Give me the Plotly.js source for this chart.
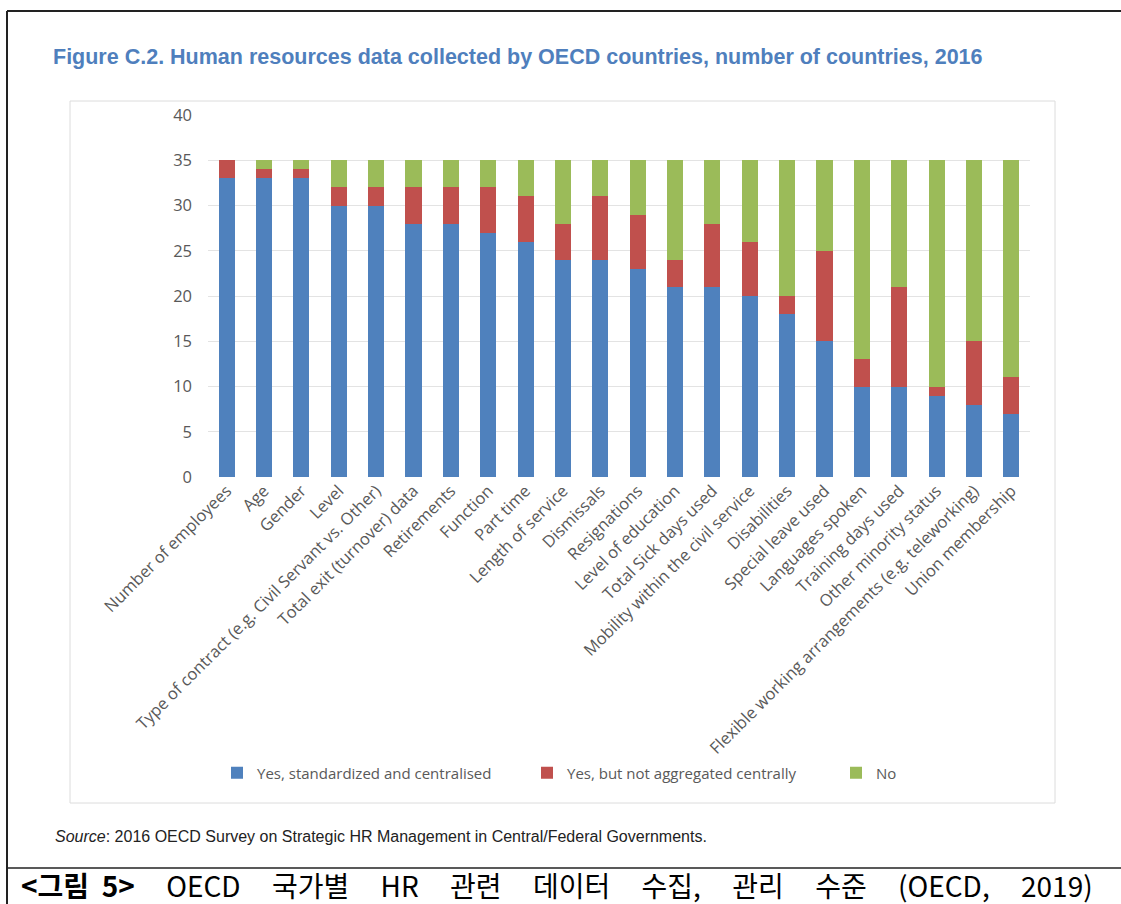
<!DOCTYPE html>
<html>
<head>
<meta charset="utf-8">
<script src="https://cdn.plot.ly/plotly-3.0.1.min.js"></script>
<style>html,body{margin:0;padding:0;background:#fff;}#chart{width:1121px;height:904px;}</style>
</head>
<body>
<div id="chart"></div>
<script>
const categories = [
  "Number of employees", "Age", "Gender", "Level",
  "Type of contract (e.g. Civil Servant vs. Other)", "Total exit (turnover) data",
  "Retirements", "Function", "Part time", "Length of service", "Dismissals",
  "Resignations", "Level of education", "Total Sick days used",
  "Mobility within the civil service", "Disabilities", "Special leave used",
  "Languages spoken", "Training days used", "Other minority status",
  "Flexible working arrangements (e.g. teleworking)", "Union membership"
];
const yesCentral    = [33, 33, 33, 30, 30, 28, 28, 27, 26, 24, 24, 23, 21, 21, 20, 18, 15, 10, 10, 9, 8, 7];
const yesNotCentral = [2, 1, 1, 2, 2, 4, 4, 5, 5, 4, 7, 6, 3, 7, 6, 2, 10, 3, 11, 1, 7, 4];
const noValues      = [0, 1, 1, 3, 3, 3, 3, 3, 4, 7, 4, 6, 11, 7, 9, 15, 10, 22, 14, 25, 20, 24];
const seriesNames = ["Yes, standardized and centralised", "Yes, but not aggregated centrally", "No"];
const yTicks = [0, 5, 10, 15, 20, 25, 30, 35, 40];
const captionWords = ["OECD", "국가별", "HR", "관련", "데이터", "수집,", "관리", "수준", "(OECD,", "2019)"];

const W = 1121, H = 904;
const L = 208, R = 1030, T = 115, B = 477;
const px = v => (v - L) / (R - L);
const py = v => (B - v) / (B - T);

const colors = ["#4f81bd", "#c0504d", "#9bbb59"];
const vals = [yesCentral, yesNotCentral, noValues];
const legendIds = ["legend", "legend2", "legend3"];
const legendTextX = [257, 567, 876];
const traces = vals.map((v, i) => ({
  type: "bar", x: categories, y: v, name: seriesNames[i], legend: legendIds[i],
  marker: {color: colors[i], line: {width: 0}}, hoverinfo: "skip"
}));

const legendBase = i => ({
  orientation: "h", xref: "container", x: (legendTextX[i] - 40) / W, xanchor: "left",
  yref: "container", y: 1 - 773 / H, yanchor: "middle",
  font: {family: "Open Sans, sans-serif", size: 15, color: "#595959"},
  bgcolor: "rgba(0,0,0,0)", borderwidth: 0
});

const gap = "&nbsp;".repeat(5);
const captionText = "<b>&lt;그림&nbsp;&nbsp;5&gt;</b>" + gap + captionWords.join(gap);

const layout = {
  width: W, height: H,
  margin: {l: L, r: W - R, t: T, b: H - B, pad: 0},
  paper_bgcolor: "#ffffff", plot_bgcolor: "#ffffff",
  barmode: "stack", bargap: 0.57,
  showlegend: true,
  title: {
    text: "<b>Figure C.2. Human resources data collected by OECD countries, number of countries, 2016</b>",
    xref: "container", yref: "container", x: 53 / W, xanchor: "left",
    y: 1 - 56 / H, yanchor: "middle",
    font: {family: "Liberation Sans, Arial, sans-serif", size: 21.5, color: "#4f7fbd"}
  },
  xaxis: {
    type: "category", tickangle: -45, showgrid: false, zeroline: false, showline: false,
    ticks: "", tickfont: {family: "Open Sans, sans-serif", size: 16.5, color: "#595959"},
    automargin: false
  },
  yaxis: {
    range: [0, 40], tickvals: yTicks, ticktext: yTicks.map(String), showgrid: true,
    gridcolor: "#e3e3e3", gridwidth: 1, zeroline: false, showline: false, ticks: "",
    ticklabelstandoff: 15,
    tickfont: {family: "Open Sans, sans-serif", size: 16.5, color: "#595959"}, automargin: false
  },
  legend: legendBase(0),
  legend2: legendBase(1),
  legend3: legendBase(2),
  shapes: [
    {type: "rect", xref: "paper", yref: "paper", x0: px(70), x1: px(1055), y0: py(803), y1: py(101),
     line: {color: "#dcdcdc", width: 1}, layer: "below"},
    {type: "line", xref: "paper", yref: "paper", x0: px(7), x1: px(1125), y0: py(11), y1: py(11),
     line: {color: "#222222", width: 2}},
    {type: "line", xref: "paper", yref: "paper", x0: px(7), x1: px(7), y0: py(11), y1: py(910),
     line: {color: "#222222", width: 2}},
    {type: "line", xref: "paper", yref: "paper", x0: px(7), x1: px(1125), y0: py(868), y1: py(868),
     line: {color: "#222222", width: 1.5}}
  ],
  annotations: [
    {xref: "paper", yref: "paper", x: px(53), y: py(836), xanchor: "left", yanchor: "middle",
     showarrow: false, align: "left",
     text: "<i>Source</i>: 2016 OECD Survey on Strategic HR Management in Central/Federal Governments.",
     font: {family: "Liberation Sans, Arial, sans-serif", size: 16, color: "#222222"}},
    {xref: "paper", yref: "paper", x: px(20), y: py(885), xanchor: "left", yanchor: "middle",
     showarrow: false, align: "left", borderpad: 0,
     text: captionText,
     font: {family: "Noto Sans CJK KR, sans-serif", size: 28, color: "#000000"}}
  ]
};

Plotly.newPlot("chart", traces, layout, {staticPlot: true, displayModeBar: false});
</script>
</body>
</html>
